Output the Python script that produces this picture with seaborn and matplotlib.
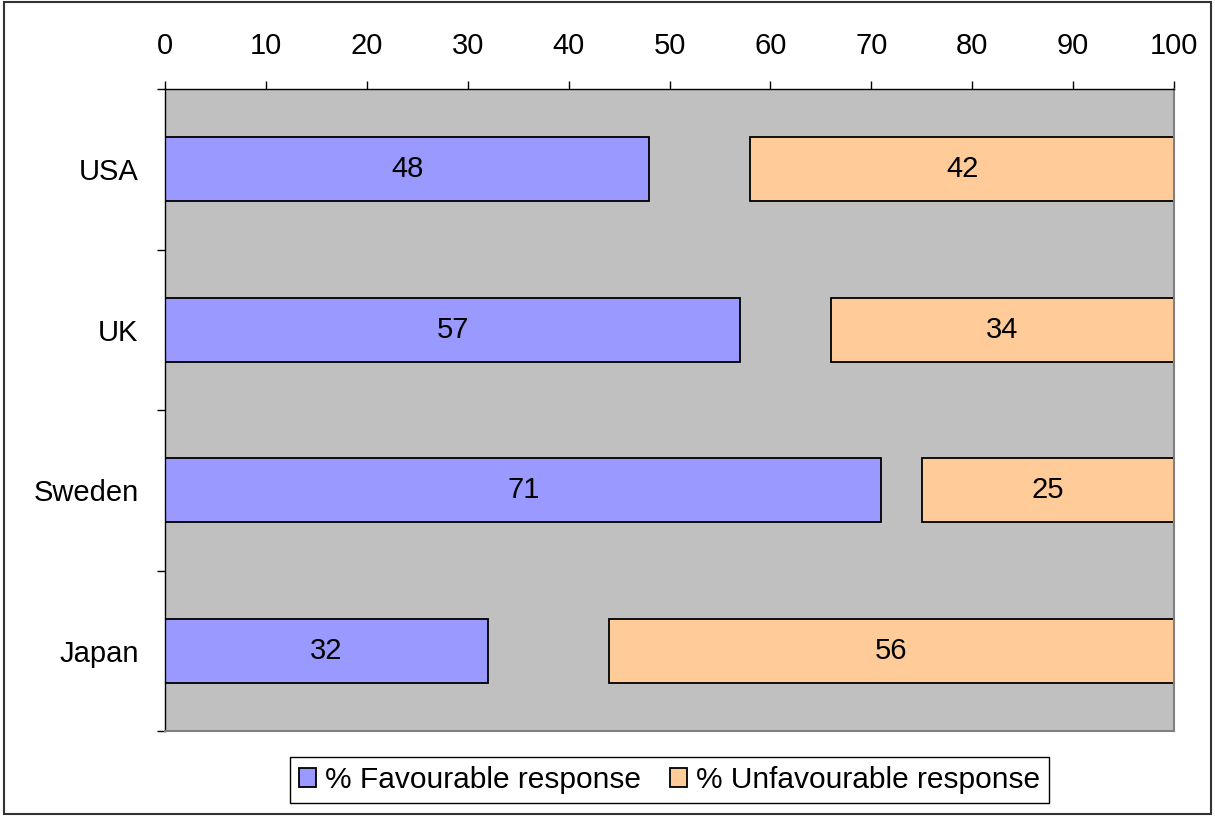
import seaborn as sns
import matplotlib.pyplot as plt
from matplotlib.patches import Patch, Rectangle
from matplotlib.ticker import FixedLocator

countries = ["USA", "UK", "Sweden", "Japan"]
favourable = [48, 57, 71, 32]
unfavourable = [42, 34, 25, 56]
x_ticks = [0, 10, 20, 30, 40, 50, 60, 70, 80, 90, 100]

fav_color = "#9999FF"
unfav_color = "#FFCC99"

sns.set_style("white")
plt.rcParams["font.family"] = ["Liberation Sans", "DejaVu Sans"]
plt.rcParams["text.color"] = "black"
plt.rcParams["xtick.color"] = "black"
plt.rcParams["ytick.color"] = "black"

fig = plt.figure(figsize=(12.15, 8.16), dpi=100)
ax = fig.add_axes([165 / 1215, 1 - 731 / 816, (1174 - 165) / 1215, (731 - 89) / 816])
ax.set_facecolor("#C0C0C0")

# favourable bars start at 0
sns.barplot(x=favourable, y=countries, orient="h", color=fav_color, saturation=1,
            width=0.4, edgecolor="black", linewidth=1.3, ax=ax)

# unfavourable bars end at 100
pos = list(range(len(countries)))
ax.barh(pos, unfavourable, left=[100 - u for u in unfavourable], height=0.4,
        color=unfav_color, edgecolor="black", linewidth=1.3)

# value labels
for i in pos:
    ax.text(favourable[i] / 2, i, str(favourable[i]), ha="center", va="center", fontsize=21)
    ax.text(100 - unfavourable[i] / 2, i, str(unfavourable[i]), ha="center", va="center", fontsize=21)

ax.set_xlim(0, 100)
ax.set_ylim(len(countries) - 0.5, -0.5)
ax.set_xlabel("")
ax.set_ylabel("")

ax.xaxis.tick_top()
ax.set_xticks(x_ticks)
ax.tick_params(axis="x", top=True, bottom=False, direction="out", length=6,
               width=1, pad=15, labelsize=21)
ax.set_yticks(pos)
ax.set_yticklabels(countries)
ax.yaxis.set_minor_locator(FixedLocator([p - 0.5 for p in pos] + [len(countries) - 0.5]))
ax.tick_params(axis="y", which="major", left=False, length=0, pad=19, labelsize=21)
ax.tick_params(axis="y", which="minor", left=True, direction="out", length=6, width=1)

for side in ["top", "left"]:
    ax.spines[side].set_color("black")
    ax.spines[side].set_linewidth(1)
for side in ["right", "bottom"]:
    ax.spines[side].set_color("#808080")
    ax.spines[side].set_linewidth(1.5)

handles = [Patch(facecolor=fav_color, edgecolor="black", linewidth=1.3),
           Patch(facecolor=unfav_color, edgecolor="black", linewidth=1.3)]
leg = ax.legend(handles, ["% Favourable response", "% Unfavourable response"],
                loc="center", bbox_to_anchor=(0.5, -0.076), ncol=2, fontsize=21.5,
                frameon=True, fancybox=False, framealpha=1, edgecolor="black",
                handlelength=0.55, handleheight=0.6, handletextpad=0.3,
                columnspacing=1.0, borderpad=0.3, borderaxespad=0)
leg.get_frame().set_linewidth(1)

fig.patches.append(Rectangle((0.003, 0.002), 0.994, 0.996, transform=fig.transFigure,
                             fill=False, edgecolor="#333333", linewidth=1.5))

fig.savefig("out.png", dpi=100)
